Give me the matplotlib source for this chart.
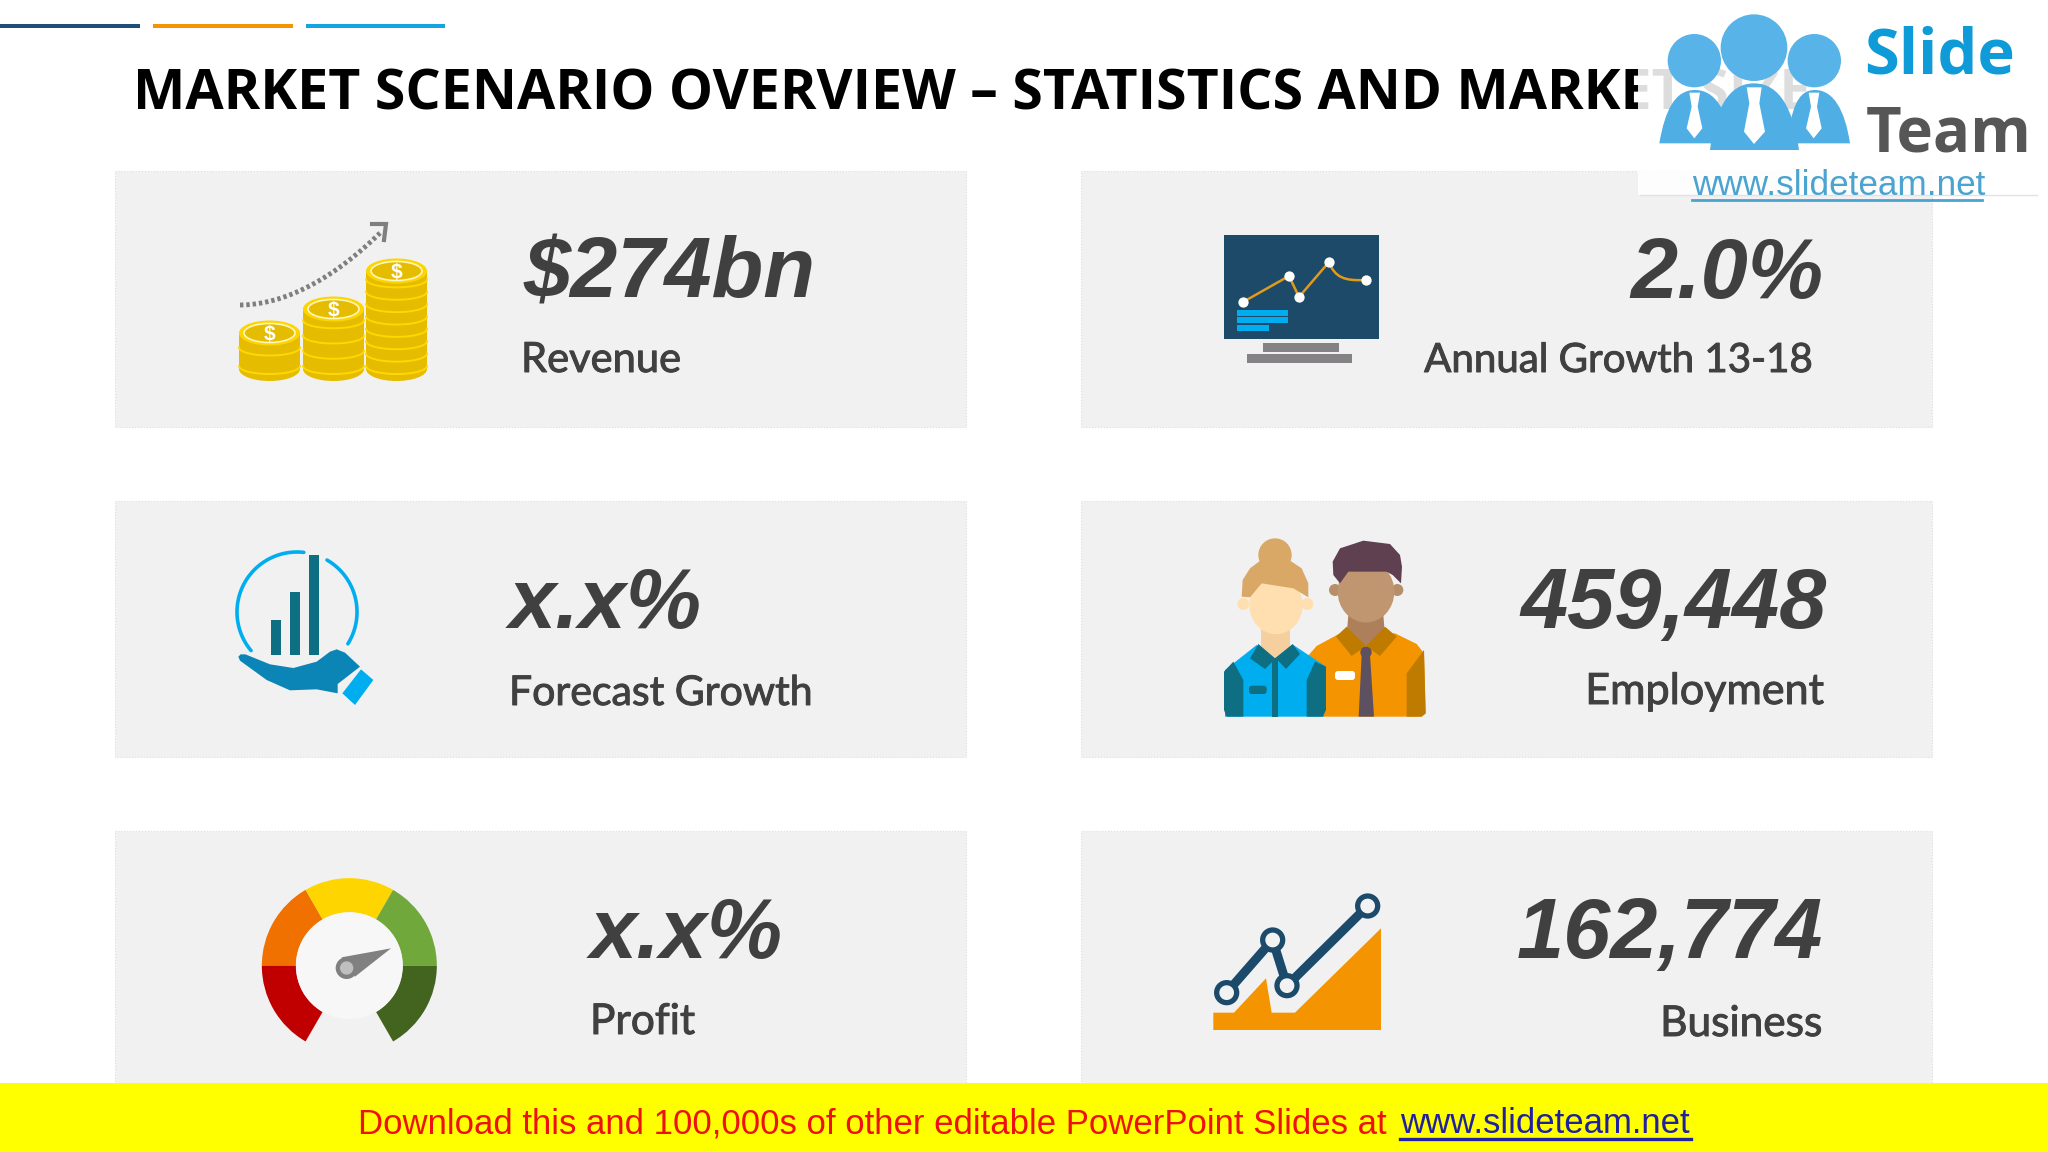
"""Market scenario overview slide: six KPI panels with drawn icons."""

from __future__ import annotations

import matplotlib

matplotlib.use("Agg")
import matplotlib.patheffects as pe
import matplotlib.pyplot as plt
import numpy as np
from matplotlib.patches import Circle, Ellipse, FancyBboxPatch, PathPatch, Polygon, Rectangle, Wedge
from matplotlib.path import Path

TITLE = "MARKET SCENARIO OVERVIEW – STATISTICS AND MARKET SIZE"
VALUES = ["$274bn", "2.0%", "x.x%", "459,448", "x.x%", "162,774"]
LABELS = ["Revenue", "Annual Growth 13-18", "Forecast Growth", "Employment", "Profit", "Business"]
BANNER_TEXT = "Download this and 100,000s of other editable PowerPoint Slides at "
BANNER_LINK = "www.slideteam.net"

WIDTH, HEIGHT = 2048, 1152
PANEL_X = [(115, 966), (1081, 1932)]
PANEL_Y = [(171, 427), (501, 757), (831, 1090)]
# anchor x of value / label, alignment for each panel
TEXT_POS = [
    (523, 521, "left"),
    (1823, 1813, "right"),
    (509, 509, "left"),
    (1827, 1823, "right"),
    (590, 590, "left"),
    (1823, 1822, "right"),
]
VALUE_BASE = [298, 298, 628, 628, 958, 958]
LABEL_BASE = [372, 372, 705, 704, 1034, 1036]
LABEL_SIZE = [30, 29, 29.5, 31, 30.5, 30.5]

DARK_TEXT = "#404040"
TEAL = "#0E6E82"
SKY = "#00AEEF"
NAVY = "#1B4A6B"
ORANGE = "#F39400"
DARK_ORANGE = "#BF7A00"
GOLD = "#E5BC00"


def zoomed(points, ox, oy, sx=1 / 3, sy=1 / 3):
    """Map coordinates read in a zoomed crop back to slide pixels."""
    pts = np.asarray(points, dtype=float)
    return pts * [sx, sy] + [ox, oy]


def poly(ax, points, color, ox, oy, z=3, **kwargs):
    ax.add_patch(Polygon(zoomed(points, ox, oy), closed=True, fc=color, ec="none", zorder=z, **kwargs))


def disc(ax, x, y, r, color, ox, oy, z=3):
    cx, cy = zoomed([x, y], ox, oy)
    ax.add_patch(Circle((cx, cy), r / 3, fc=color, ec="none", zorder=z))


def round_box(ax, x0, y0, x1, y1, color, ox, oy, z=3, pad=3):
    (ax0, ay0), (ax1, ay1) = zoomed([(x0, y0), (x1, y1)], ox, oy)
    ax.add_patch(
        FancyBboxPatch(
            (ax0, ay0),
            ax1 - ax0,
            ay1 - ay0,
            boxstyle=f"round,pad=0,rounding_size={pad}",
            fc=color,
            ec="none",
            zorder=z,
        )
    )


def draw_coins(ax):
    for left, top, bottom, rings in [(239, 320, 381, 2), (303, 296, 381, 4), (366, 258, 381, 8)]:
        w = 61
        cx = left + w / 2
        ax.add_patch(Rectangle((left, top + 12), w, bottom - top - 24, fc=GOLD, ec="none", zorder=3))
        ax.add_patch(Ellipse((cx, bottom - 12), w, 24, fc=GOLD, ec="none", zorder=3))
        for i in range(1, rings + 1):
            y = top + 12 + i * (bottom - top - 24) / rings
            t = np.linspace(np.pi, 0, 30)
            ax.plot(cx + w / 2 * np.cos(t), y + 8 * np.sin(t) - 3, color="#FFD800", lw=1.4, zorder=4)
        ax.add_patch(Ellipse((cx, top + 13), w, 25, fc="#FFD500", ec="none", zorder=5))
        ax.add_patch(Ellipse((cx, top + 13), w - 10, 19, fc=GOLD, ec="#FFF6C0", lw=1.2, zorder=6))
        ax.text(cx, top + 14, "$", color="white", fontsize=15, fontweight="bold", family="Liberation Sans",
                ha="center", va="center", zorder=7)
    t = np.linspace(0, 1, 60)
    x = 240 + (380 - 240) * t
    y = 305 - 72 * t**1.9
    ax.plot(x, y, color="#7F7F7F", lw=3.5, ls=(0, (0.7, 0.6)), zorder=3)
    ax.plot([372, 386, 384], [224, 224, 240], color="#7F7F7F", lw=3, solid_joinstyle="miter", zorder=3)


def draw_monitor(ax):
    ax.add_patch(Rectangle((1224, 235), 155, 104, fc="#1C4A68", ec="none", zorder=3))
    ax.add_patch(Rectangle((1263, 343), 76, 9, fc="#858285", ec="none", zorder=3))
    ax.add_patch(Rectangle((1247, 354), 105, 9, fc="#858285", ec="none", zorder=3))
    xs = [1243, 1289, 1299, 1329]
    ys = [302, 276, 297, 262]
    ax.plot(xs, ys, color="#E09A1E", lw=1.8, zorder=4)
    curve = Path([(1329, 262), (1335, 278), (1345, 281), (1366, 280)], [Path.MOVETO, Path.CURVE4, Path.CURVE4, Path.CURVE4])
    ax.add_patch(PathPatch(curve, fc="none", ec="#E09A1E", lw=1.8, zorder=4))
    ax.scatter(xs + [1366], ys + [280], s=55, color="white", zorder=5, linewidths=0)
    for y0, x1 in [(310, 1288), (317, 1288), (325, 1269)]:
        ax.add_patch(Rectangle((1237, y0), x1 - 1237, 5.5, fc=SKY, ec="none", zorder=4))


def draw_hand(ax):
    ox, oy = 210, 530
    cx, cy = 297, 612
    for a0, a1 in [(83.5, 220), (-32, 60)]:
        t = np.radians(np.linspace(a0, a1, 80))
        ax.plot(cx + 60 * np.cos(t), cy - 60 * np.sin(t), color=SKY, lw=2.6, solid_capstyle="round", zorder=3)
    for x0, top in [(184, 271), (241, 186), (298, 76)]:
        poly(ax, [(x0, top), (x0 + 28, top), (x0 + 28, 375), (x0, 375)], TEAL, ox, oy)
    hand = [(85, 380), (92, 373), (106, 373), (180, 403), (250, 414), (320, 395), (360, 365), (380, 358), (405, 368),
            (450, 410), (383, 462), (383, 490), (320, 478), (240, 481), (170, 450), (90, 392)]
    poly(ax, hand, "#0A85B5", ox, oy)
    poly(ax, [(453, 418), (490, 450), (435, 525), (397, 490)], SKY, ox, oy)


def draw_people(ax):
    ox, oy = 1200, 520
    # man
    poly(ax, [(322, 410), (350, 378), (420, 340), (585, 340), (650, 372), (672, 400), (677, 580), (665, 590), (370, 590)], ORANGE, ox, oy)
    poly(ax, [(620, 460), (672, 390), (677, 580), (665, 590), (620, 590)], DARK_ORANGE, ox, oy)
    poly(ax, [(445, 285), (550, 285), (555, 345), (498, 378), (440, 345)], "#AD7F5A", ox, oy)
    disc(ax, 405, 210, 18, "#B58E6A", ox, oy)
    disc(ax, 592, 210, 18, "#B58E6A", ox, oy)
    cx, cy = zoomed([498, 215], ox, oy)
    ax.add_patch(Ellipse((cx, cy), 170 / 3, 185 / 3, fc="#C09670", ec="none", zorder=3))
    poly(ax, [(398, 125), (420, 85), (490, 62), (570, 72), (600, 105), (606, 140), (603, 190), (578, 165), (560, 155),
              (445, 155), (420, 190), (400, 165)], "#5E4050", ox, oy)
    poly(ax, [(408, 350), (440, 320), (498, 378), (555, 320), (590, 350), (540, 408), (498, 378), (455, 408)], DARK_ORANGE, ox, oy)
    poly(ax, [(485, 405), (510, 405), (522, 590), (476, 590)], "#5D5060", ox, oy)
    disc(ax, 498, 397, 17, "#5D5060", ox, oy)
    round_box(ax, 405, 453, 465, 480, "#FFFFFF", ox, oy)
    # woman
    disc(ax, 225, 105, 50, "#D9A866", ox, oy)
    disc(ax, 130, 252, 18, "#FFDFB0", ox, oy)
    disc(ax, 322, 252, 18, "#FFDFB0", ox, oy)
    poly(ax, [(183, 310), (270, 310), (270, 385), (225, 415), (183, 385)], "#F5D09E", ox, oy)
    cx, cy = zoomed([228, 255], ox, oy)
    ax.add_patch(Ellipse((cx, cy), 160 / 3, 175 / 3, fc="#FFDFB0", ec="none", zorder=3))
    poly(ax, [(125, 230), (128, 180), (150, 145), (190, 115), (260, 115), (305, 145), (325, 190), (325, 232),
              (280, 205), (185, 190), (150, 232)], "#D9A866", ox, oy)
    poly(ax, [(75, 450), (170, 375), (225, 415), (280, 375), (378, 440), (372, 590), (75, 590)], SKY, ox, oy)
    poly(ax, [(72, 455), (100, 425), (130, 480), (130, 590), (80, 590), (72, 570)], TEAL, ox, oy)
    poly(ax, [(378, 440), (345, 425), (320, 480), (320, 590), (368, 590), (378, 570)], TEAL, ox, oy)
    poly(ax, [(175, 372), (225, 415), (278, 372), (300, 402), (258, 447), (228, 415), (195, 447), (150, 415)], TEAL, ox, oy)
    poly(ax, [(217, 415), (233, 415), (233, 590), (217, 590)], TEAL, ox, oy)
    round_box(ax, 147, 497, 200, 522, TEAL, ox, oy)


def draw_gauge(ax):
    ox, oy = 240, 860
    cx, cy = zoomed([328, 317], ox, oy)
    # y axis is inverted, so angles run clockwise on screen
    segments = [(120, 180, "#F07000"), (60, 120, "#FFD500"), (0, 60, "#70A83C"), (-60, 0, "#43641F"), (180, 240, "#C00000")]
    for a0, a1, color in segments:
        ax.add_patch(Wedge((cx, cy), 87.5, -a1, -a0, width=34, fc=color, ec="none", zorder=3))
    disc(ax, 328, 317, 160, "#F7F7F7", ox, oy, z=4)
    poly(ax, [(453, 265), (305, 292), (345, 350)], "#808080", ox, oy, z=5)
    disc(ax, 320, 324, 33, "#808080", ox, oy, z=5)
    disc(ax, 320, 324, 20, "#BFBFBF", ox, oy, z=6)


def draw_growth(ax):
    ox, oy = 1190, 870
    poly(ax, [(70, 428), (132, 428), (228, 325), (245, 428), (315, 428), (573, 175), (573, 480), (70, 480)], ORANGE, ox, oy)
    pts = zoomed([(110, 368), (248, 210), (291, 347), (533, 108)], ox, oy)
    ax.plot(pts[:, 0], pts[:, 1], color=NAVY, lw=6.5, solid_joinstyle="round", zorder=4)
    for x, y in pts:
        ax.add_patch(Circle((x, y), 10, fc="#F2F2F3", ec=NAVY, lw=3.8, zorder=5))


def draw_logo(ax):
    ox, oy = 1600, 0
    ax.add_patch(Rectangle((1638, 0), 399, 195, fc="white", ec="none", alpha=0.87, zorder=10))
    ax.plot([1640, 2037], [195, 195], color="#E2E2E2", lw=1, zorder=10)
    blue = "#4FAEE3"
    codes = [Path.MOVETO, Path.CURVE4, Path.CURVE4, Path.CURVE4, Path.CURVE4, Path.CURVE4, Path.CURVE4, Path.CLOSEPOLY]
    domes = [
        [(178, 430), (195, 330), (225, 270), (285, 270), (345, 270), (380, 330), (400, 430), (178, 430)],
        [(560, 430), (575, 330), (590, 270), (645, 270), (700, 270), (735, 330), (750, 430), (560, 430)],
        [(330, 450), (345, 330), (385, 250), (462, 250), (540, 250), (580, 330), (597, 450), (330, 450)],
    ]
    for i, dome in enumerate(domes):
        ax.add_patch(PathPatch(Path(zoomed(dome, ox, oy), codes), fc=blue, ec="none", zorder=11 + i))
    for x, y, r in [(283, 182, 80), (643, 182, 80), (462, 143, 100)]:
        disc(ax, x, y, r, "#58B4E8", ox, oy, z=14)
    poly(ax, [(268, 278), (300, 278), (293, 320), (307, 385), (283, 415), (260, 385), (275, 320)], "white", ox, oy, z=12)
    poly(ax, [(626, 278), (658, 278), (651, 320), (665, 385), (641, 415), (618, 385), (633, 320)], "white", ox, oy, z=12)
    poly(ax, [(440, 262), (485, 262), (478, 310), (495, 395), (462, 432), (432, 395), (448, 310)], "white", ox, oy, z=14)
    ax.text(1864, 74, "Slide", family="Open Sans", fontweight="bold", fontsize=45.5, color="#0F9BD7", va="baseline", zorder=15)
    ax.text(1866, 152, "Team", family="Open Sans", fontweight="bold", fontsize=44.5, color="#565656", va="baseline", zorder=15)
    ax.text(1692, 195, "www.slideteam.net", family="Liberation Sans", fontsize=25.3, color="#4AA3D0", va="baseline", zorder=15)
    ax.plot([1692, 1982], [199.5, 199.5], color="#4AA3D0", lw=2, zorder=15)


def main() -> None:
    fig = plt.figure(figsize=(WIDTH / 100, HEIGHT / 100), dpi=100, facecolor="white")
    ax = fig.add_axes([0, 0, 1, 1])
    ax.set_xlim(0, WIDTH)
    ax.set_ylim(HEIGHT, 0)
    ax.axis("off")

    for (x0, x1), color in zip([(0, 140), (153, 293), (306, 445)], ["#1F4E79", ORANGE, "#14A5E0"]):
        ax.add_patch(Rectangle((x0, 24), x1 - x0, 4, fc=color, ec="none"))
    ax.text(133, 110, TITLE, family="Open Sans", fontweight="bold", fontsize=40, color="black", va="baseline", zorder=2)

    for row, (y0, y1) in enumerate(PANEL_Y):
        for col, (x0, x1) in enumerate(PANEL_X):
            ax.add_patch(Rectangle((x0, y0), x1 - x0, y1 - y0, fc="#F1F1F2", ec="#DEDEDE", lw=0.8, ls=":", zorder=1))
            i = row * 2 + col
            vx, lx, align = TEXT_POS[i]
            ax.text(vx, VALUE_BASE[i], VALUES[i], family="Liberation Sans", fontweight="bold", style="italic",
                    fontsize=61, color=DARK_TEXT, ha=align, va="baseline", zorder=3)
            ax.text(lx, LABEL_BASE[i], LABELS[i], family="Lato", fontsize=LABEL_SIZE[i], color=DARK_TEXT, ha=align,
                    va="baseline", zorder=3, path_effects=[pe.withStroke(linewidth=0.7, foreground=DARK_TEXT)])

    draw_coins(ax)
    draw_monitor(ax)
    draw_hand(ax)
    draw_people(ax)
    draw_gauge(ax)
    draw_growth(ax)
    draw_logo(ax)

    ax.add_patch(Rectangle((0, 1083), WIDTH, HEIGHT - 1083, fc="#FFFF00", ec="none", zorder=20))
    ax.text(358, 1133, BANNER_TEXT, family="Liberation Sans", fontsize=25, color="#EE1111", va="baseline", zorder=21)
    ax.text(1400, 1133, BANNER_LINK, family="Liberation Sans", fontsize=25, color="#2020A0", va="baseline", zorder=21)
    ax.plot([1400, 1691], [1139, 1139], color="#2020A0", lw=2.4, zorder=21)

    fig.savefig("out.png", dpi=100)
    plt.close(fig)


if __name__ == "__main__":
    main()
